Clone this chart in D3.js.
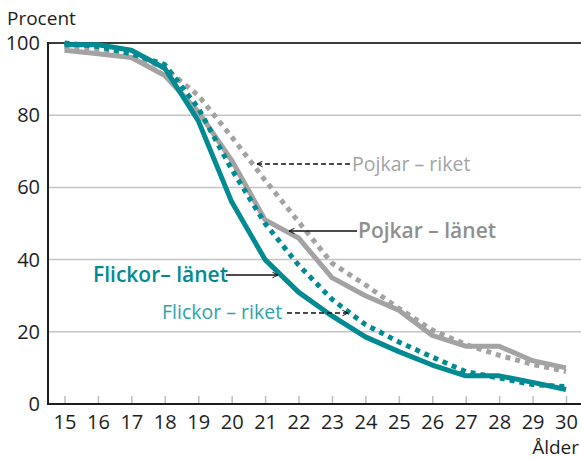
<!DOCTYPE html>
<html>
<head>
<meta charset="utf-8">
<script src="https://cdn.jsdelivr.net/npm/d3@7"></script>
<style>
  body { margin: 0; background: #fff; }
  svg { font-family: "Open Sans", "Noto Sans", sans-serif; display: block; }
</style>
</head>
<body>
<div id="chart"></div>
<script>
const ages = [15, 16, 17, 18, 19, 20, 21, 22, 23, 24, 25, 26, 27, 28, 29, 30];
const pojkarLanet  = [98, 97, 96, 91, 81, 67.5, 51, 46, 35, 30, 26, 19, 16, 16, 12, 10];
const pojkarRiket  = [99, 98, 97, 93, 85.5, 74, 62, 50.5, 39, 33, 26.5, 20.5, 16.5, 13.5, 11, 9];
const flickorLanet = [99.5, 99.5, 98, 93, 78.5, 56, 40, 31, 24.4, 18.6, 14.5, 10.8, 7.8, 7.8, 6, 4];
const flickorRiket = [100, 99, 97, 94, 82, 65, 50, 38.5, 29, 22, 17.2, 13, 9, 7.2, 5.4, 4.8];
const yTicks = [0, 20, 40, 60, 80, 100];

const teal = '#008b92';
const tealLight = '#2ea3aa';
const gray = '#a3a3a3';

const width = 581;
const height = 459;

const svg = d3.select('#chart')
  .append('svg')
  .attr('width', width)
  .attr('height', height);

const xScale = d3.scaleLinear().domain([15, 30]).range([64.5, 566]);
const yScale = d3.scaleLinear().domain([0, 100]).range([404, 43]);

// gridlines
svg.append('g')
  .selectAll('line')
  .data(yTicks.filter(d => d > 0 && d < 100))
  .join('line')
  .attr('x1', 48).attr('x2', width)
  .attr('y1', d => yScale(d)).attr('y2', d => yScale(d))
  .attr('stroke', '#c4c4c4')
  .attr('stroke-width', 1.5);

// top frame line
svg.append('line')
  .attr('x1', 48).attr('x2', width)
  .attr('y1', yScale(100)).attr('y2', yScale(100))
  .attr('stroke', '#3b3b38').attr('stroke-width', 2);

// x axis with upward ticks
const xAxis = svg.append('g')
  .attr('transform', `translate(0, ${yScale(0)})`)
  .call(d3.axisBottom(xScale).tickValues(ages).tickSize(0).tickPadding(11));
xAxis.select('.domain').remove();
xAxis.selectAll('text').attr('font-size', 20).attr('fill', '#1e1e1e').attr('font-family', '"Open Sans", sans-serif');
xAxis.selectAll('.tick').append('line')
  .attr('y1', 0).attr('y2', -8)
  .attr('stroke', '#bdbdbd').attr('stroke-width', 1.5);

// y axis
const yAxis = svg.append('g')
  .attr('transform', 'translate(48, 0)')
  .call(d3.axisLeft(yScale).tickValues(yTicks).tickSize(0).tickPadding(8));
yAxis.select('.domain').remove();
yAxis.selectAll('text').attr('font-size', 20).attr('fill', '#1e1e1e').attr('font-family', '"Open Sans", sans-serif');

// axis lines
svg.append('line')
  .attr('x1', 48).attr('x2', width)
  .attr('y1', yScale(0)).attr('y2', yScale(0))
  .attr('stroke', '#1e1e1e').attr('stroke-width', 2);
svg.append('line')
  .attr('x1', 48).attr('x2', 48)
  .attr('y1', yScale(100) - 1).attr('y2', yScale(0) + 1)
  .attr('stroke', '#1e1e1e').attr('stroke-width', 2);

const line = d3.line()
  .x((d, i) => xScale(ages[i]))
  .y(d => yScale(d));

const series = [
  { values: pojkarRiket, color: gray, dash: '5,5' },
  { values: pojkarLanet, color: gray, dash: null },
  { values: flickorRiket, color: teal, dash: '5,5' },
  { values: flickorLanet, color: teal, dash: null },
];

svg.append('g')
  .selectAll('path')
  .data(series)
  .join('path')
  .attr('d', d => line(d.values))
  .attr('fill', 'none')
  .attr('stroke', d => d.color)
  .attr('stroke-width', 5)
  .attr('stroke-linejoin', 'round')
  .attr('stroke-dasharray', d => d.dash);

// arrow marker
svg.append('defs').append('marker')
  .attr('id', 'arrow')
  .attr('viewBox', '0 0 10 10')
  .attr('refX', 9).attr('refY', 5)
  .attr('markerWidth', 7).attr('markerHeight', 7)
  .attr('markerUnits', 'userSpaceOnUse')
  .attr('orient', 'auto')
  .append('path')
  .attr('d', 'M1,1 L9,5 L1,9')
  .attr('fill', 'none')
  .attr('stroke', '#111')
  .attr('stroke-width', 1.4);

const labels = [
  { text: 'Pojkar – riket', x: 352, y: 171, color: gray, weight: 400, size: 19.5, from: [350, 164], to: [257, 164], dash: '5,3' },
  { text: 'Pojkar – länet', x: 358, y: 238, color: '#8f8f8f', weight: 600, size: 21, from: [357, 231], to: [289, 231], dash: null },
  { text: 'Flickor– länet', x: 93, y: 282, color: teal, weight: 600, size: 21, from: [226, 275], to: [278, 275], dash: null },
  { text: 'Flickor – riket', x: 162, y: 319, color: tealLight, weight: 400, size: 19.5, from: [287, 313], to: [348, 313], dash: '5,3' },
];

const ann = svg.append('g');
labels.forEach(l => {
  ann.append('line')
    .attr('x1', l.from[0]).attr('y1', l.from[1])
    .attr('x2', l.to[0]).attr('y2', l.to[1])
    .attr('stroke', '#111').attr('stroke-width', 1.4)
    .attr('stroke-dasharray', l.dash)
    .attr('marker-end', 'url(#arrow)');
  ann.append('text')
    .attr('x', l.x).attr('y', l.y)
    .attr('fill', l.color)
    .attr('font-size', l.size)
    .attr('font-weight', l.weight)
    .text(l.text);
});

// axis titles
svg.append('text')
  .attr('x', 7).attr('y', 25)
  .attr('font-size', 19).attr('fill', '#1e1e1e')
  .text('Procent');
svg.append('text')
  .attr('x', 579).attr('y', 453.5)
  .attr('text-anchor', 'end')
  .attr('font-size', 19).attr('fill', '#1e1e1e')
  .text('Ålder');
</script>
</body>
</html>
